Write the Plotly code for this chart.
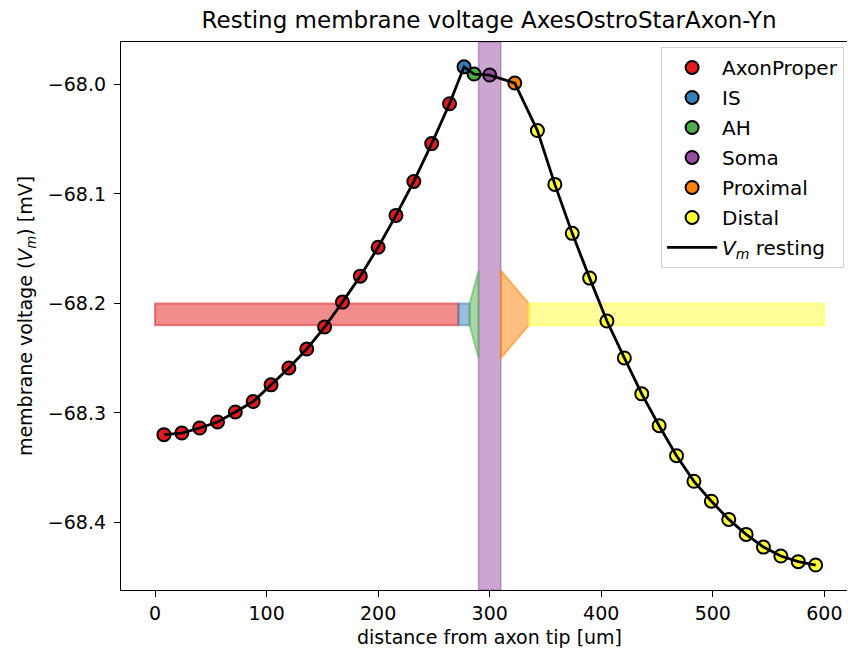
import plotly.graph_objects as go

# ---- data ----
axon_x = [8, 24, 40, 56, 72, 88, 104, 120, 136, 152, 168, 184, 200, 216, 232, 248, 264]
axon_v = [-68.3199, -68.3184, -68.3138, -68.3083, -68.2992, -68.2896, -68.2744, -68.2590,
          -68.2417, -68.2216, -68.1988, -68.1751, -68.1487, -68.1196, -68.0886, -68.0540, -68.0176]
is_x = [277]
is_v = [-67.9839]
ah_x = [286]
ah_v = [-67.9905]
soma_x = [300]
soma_v = [-67.9914]
prox_x = [322.5]
prox_v = [-67.9987]
distal_x = [342.8, 358.4, 374.0, 389.6, 405.1, 420.7, 436.3, 451.9, 467.5, 483.1, 498.7,
            514.3, 529.9, 545.4, 561.0, 576.6, 592.2]
distal_v = [-68.0421, -68.0913, -68.1360, -68.1769, -68.2161, -68.2498, -68.2826, -68.3117,
            -68.3391, -68.3625, -68.3807, -68.3973, -68.4110, -68.4226, -68.4308, -68.4359, -68.4390]

sec_names = ["AxonProper", "IS", "AH", "Soma", "Proximal", "Distal"]
sec_start = [0, 272, 282, 290, 310, 335]
sec_end = [272, 282, 290, 310, 335, 600]
sec_half_left = [0.01, 0.01, 0.01, None, 0.04, 0.01]
sec_half_right = [0.01, 0.01, 0.04, None, 0.01, 0.01]
bar_center = -68.21

colors = ["#e41a1c", "#377eb8", "#4daf4a", "#984ea3", "#ff7f00", "#ffff33"]
rgb = [(228, 26, 28), (55, 126, 184), (77, 175, 74), (152, 78, 163), (255, 127, 0), (255, 255, 51)]

x_ticks = [0, 100, 200, 300, 400, 500, 600]
y_ticks = [-68.0, -68.1, -68.2, -68.3, -68.4]
y_ticktext = ["\u221268.0", "\u221268.1", "\u221268.2", "\u221268.3", "\u221268.4"]

FONT = "DejaVu Sans"

fig = go.Figure()

point_sets = [(axon_x, axon_v), (is_x, is_v), (ah_x, ah_v), (soma_x, soma_v), (prox_x, prox_v), (distal_x, distal_v)]
for name, (xs, vs), c in zip(sec_names, point_sets, colors):
    fig.add_trace(go.Scatter(x=xs, y=vs, mode="markers", name=name, legendgroup=name,
                             marker=dict(color=c, size=13, line=dict(color="black", width=2))))

all_x = axon_x + is_x + ah_x + soma_x + prox_x + distal_x
all_v = axon_v + is_v + ah_v + soma_v + prox_v + distal_v
fig.add_trace(go.Scatter(x=all_x, y=all_v, mode="lines", legendgroup="vm",
                         name="<i>V</i><sub><i>m</i></sub> resting",
                         line=dict(color="black", width=2.8)))

shapes = []
for i in range(len(sec_names)):
    r, g, b = rgb[i]
    fill = f"rgba({r},{g},{b},0.5)"
    if sec_half_left[i] is None:
        shapes.append(dict(type="rect", xref="x", yref="paper", x0=sec_start[i], x1=sec_end[i],
                           y0=0, y1=1, fillcolor=fill, line=dict(color=fill, width=1.5), layer="below"))
    else:
        x0, x1 = sec_start[i], sec_end[i]
        hl, hr = sec_half_left[i], sec_half_right[i]
        path = (f"M {x0},{bar_center + hl} L {x1},{bar_center + hr} "
                f"L {x1},{bar_center - hr} L {x0},{bar_center - hl} Z")
        shapes.append(dict(type="path", xref="x", yref="y", path=path, fillcolor=fill,
                           line=dict(color=fill, width=2), layer="below"))

fig.update_layout(
    width=848, height=656,
    margin=dict(l=121, r=1, t=42, b=66),
    paper_bgcolor="white", plot_bgcolor="white",
    font=dict(family=FONT, size=19, color="black"),
    shapes=shapes,
    title=dict(text="Resting membrane voltage AxesOstroStarAxon-Yn", x=0.507, xref="paper",
               xanchor="center", y=0.969, yref="container", yanchor="middle",
               font=dict(family=FONT, size=23, color="black")),
    showlegend=True,
    legend=dict(x=0.996, y=0.991, xanchor="right", yanchor="top",
                bgcolor="rgba(255,255,255,0.85)", bordercolor="#d0d0d0", borderwidth=1,
                font=dict(family=FONT, size=20), tracegroupgap=1, itemwidth=50),
    annotations=[dict(text="distance from axon tip [um]", xref="paper", yref="paper",
                      x=0.507, y=-0.0855, xanchor="center", yanchor="middle", showarrow=False,
                      font=dict(family=FONT, size=19, color="black"))],
)

fig.update_xaxes(range=[-30.5, 620.3], tickvals=x_ticks, ticktext=[str(t) for t in x_ticks],
                 showgrid=False, zeroline=False, showline=True, linecolor="black", linewidth=1.3,
                 mirror=True, ticks="outside", ticklen=6, tickwidth=1.3, tickcolor="black",
                 tickfont=dict(family=FONT, size=19))
fig.update_yaxes(range=[-68.4618, -67.9612], tickvals=y_ticks, ticktext=y_ticktext,
                 showgrid=False, zeroline=False, showline=True, linecolor="black", linewidth=1.3,
                 mirror=False, ticks="outside", ticklen=6, tickwidth=1.3, tickcolor="black",
                 ticklabelstandoff=4,
                 tickfont=dict(family=FONT, size=19),
                 title=dict(text="membrane voltage (<i>V</i><sub><i>m</i></sub>) [mV]", standoff=10,
                            font=dict(family=FONT, size=19)))

fig.write_html("out.html")
